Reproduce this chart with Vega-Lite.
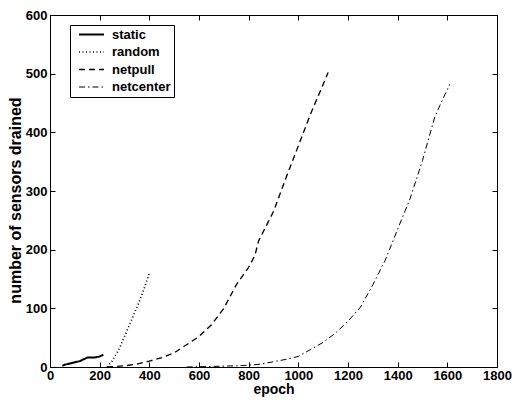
{
  "$schema": "https://vega.github.io/schema/vega-lite/v6.json",
  "autosize": "none",
  "width": 447,
  "height": 352,
  "padding": {"left": 50, "top": 15, "right": 17, "bottom": 33},
  "background": "white",
  "config": {
    "view": {"stroke": "black", "strokeWidth": 1},
    "font": "Liberation Sans",
    "axis": {
      "labelFont": "Liberation Sans", "labelFontWeight": "bold", "labelFontSize": 13, "labelColor": "black",
      "titleFont": "Liberation Sans", "titleFontWeight": "bold", "titleFontSize": 14, "titleColor": "black",
      "grid": false, "format": "d"
    }
  },
  "data": {"values": [
    {"series": "static", "epoch": 50, "drained": 2},
    {"series": "static", "epoch": 60, "drained": 4},
    {"series": "static", "epoch": 80, "drained": 6},
    {"series": "static", "epoch": 100, "drained": 8},
    {"series": "static", "epoch": 120, "drained": 10},
    {"series": "static", "epoch": 135, "drained": 13},
    {"series": "static", "epoch": 150, "drained": 16},
    {"series": "static", "epoch": 180, "drained": 16},
    {"series": "static", "epoch": 200, "drained": 18},
    {"series": "static", "epoch": 215, "drained": 21},
    {"series": "random", "epoch": 230, "drained": 0},
    {"series": "random", "epoch": 250, "drained": 10},
    {"series": "random", "epoch": 280, "drained": 32},
    {"series": "random", "epoch": 300, "drained": 52},
    {"series": "random", "epoch": 320, "drained": 72},
    {"series": "random", "epoch": 340, "drained": 92},
    {"series": "random", "epoch": 360, "drained": 112},
    {"series": "random", "epoch": 380, "drained": 135},
    {"series": "random", "epoch": 400, "drained": 160},
    {"series": "netpull", "epoch": 230, "drained": 0},
    {"series": "netpull", "epoch": 300, "drained": 2},
    {"series": "netpull", "epoch": 350, "drained": 5},
    {"series": "netpull", "epoch": 400, "drained": 10},
    {"series": "netpull", "epoch": 450, "drained": 16},
    {"series": "netpull", "epoch": 500, "drained": 24},
    {"series": "netpull", "epoch": 550, "drained": 38},
    {"series": "netpull", "epoch": 600, "drained": 52},
    {"series": "netpull", "epoch": 650, "drained": 72},
    {"series": "netpull", "epoch": 700, "drained": 100},
    {"series": "netpull", "epoch": 750, "drained": 140},
    {"series": "netpull", "epoch": 800, "drained": 170},
    {"series": "netpull", "epoch": 825, "drained": 190},
    {"series": "netpull", "epoch": 840, "drained": 215},
    {"series": "netpull", "epoch": 900, "drained": 265},
    {"series": "netpull", "epoch": 950, "drained": 322},
    {"series": "netpull", "epoch": 1000, "drained": 377},
    {"series": "netpull", "epoch": 1050, "drained": 432},
    {"series": "netpull", "epoch": 1100, "drained": 482},
    {"series": "netpull", "epoch": 1120, "drained": 502},
    {"series": "netcenter", "epoch": 550, "drained": 0},
    {"series": "netcenter", "epoch": 650, "drained": 1},
    {"series": "netcenter", "epoch": 750, "drained": 2},
    {"series": "netcenter", "epoch": 800, "drained": 3},
    {"series": "netcenter", "epoch": 850, "drained": 5},
    {"series": "netcenter", "epoch": 900, "drained": 9},
    {"series": "netcenter", "epoch": 950, "drained": 13},
    {"series": "netcenter", "epoch": 1000, "drained": 18},
    {"series": "netcenter", "epoch": 1050, "drained": 30},
    {"series": "netcenter", "epoch": 1100, "drained": 42},
    {"series": "netcenter", "epoch": 1150, "drained": 58},
    {"series": "netcenter", "epoch": 1200, "drained": 78},
    {"series": "netcenter", "epoch": 1250, "drained": 102},
    {"series": "netcenter", "epoch": 1300, "drained": 140},
    {"series": "netcenter", "epoch": 1350, "drained": 182},
    {"series": "netcenter", "epoch": 1400, "drained": 235},
    {"series": "netcenter", "epoch": 1450, "drained": 287},
    {"series": "netcenter", "epoch": 1500, "drained": 352},
    {"series": "netcenter", "epoch": 1550, "drained": 427},
    {"series": "netcenter", "epoch": 1580, "drained": 455},
    {"series": "netcenter", "epoch": 1610, "drained": 482}
  ]},
  "resolve": {"axis": {"x": "independent", "y": "independent"}},
  "layer": [
    {
      "mark": {"type": "line", "color": "black"},
      "encoding": {
        "x": {"field": "epoch", "type": "quantitative", "scale": {"domain": [0, 1800], "nice": false},
              "axis": {"title": "epoch", "values": [0,200,400,600,800,1000,1200,1400,1600,1800], "domain": false, "ticks": true, "tickSize": 5, "tickColor": "black", "tickWidth": 1, "offset": -5, "labelPadding": 2, "titlePadding": 0, "labelFlush": false}},
        "y": {"field": "drained", "type": "quantitative", "scale": {"domain": [0, 600], "nice": false},
              "axis": {"title": "number of sensors drained", "titleFontSize": 16, "titleY": 185, "values": [0,100,200,300,400,500,600], "domain": false, "ticks": true, "tickSize": 5, "tickColor": "black", "tickWidth": 1, "offset": -5, "labelPadding": 3, "titlePadding": 2}},
        "strokeDash": {"field": "series", "type": "nominal",
          "scale": {"domain": ["static", "random", "netpull", "netcenter"], "range": [[1,0],[1,2.5],[6,4],[6,3,1.5,3]]},
          "legend": {"title": null, "orient": "none", "legendX": 20, "legendY": 10, "fillColor": "white", "strokeColor": "black",
                     "padding": 3, "rowPadding": 3.5, "symbolOffset": 5, "symbolType": "stroke", "symbolSize": 625, "clipHeight": 13, "symbolStrokeColor": "black",
                     "symbolStrokeWidth": 2, "labelFont": "Liberation Sans", "labelFontWeight": "bold", "labelFontSize": 13, "labelColor": "black", "labelOffset": 7}},
        "strokeWidth": {"field": "series", "type": "nominal",
          "scale": {"domain": ["static", "random", "netpull", "netcenter"], "range": [2, 1, 2, 2]},
          "legend": null}
      }
    },
    {
      "mark": {"type": "line", "opacity": 0},
      "encoding": {
        "x": {"field": "epoch", "type": "quantitative", "axis": {"orient": "top", "labels": false, "title": null, "domain": false, "ticks": true, "tickSize": 5, "tickColor": "black", "tickWidth": 1, "offset": -5, "values": [0,200,400,600,800,1000,1200,1400,1600,1800]}},
        "y": {"field": "drained", "type": "quantitative", "axis": {"orient": "right", "labels": false, "title": null, "domain": false, "ticks": true, "tickSize": 5, "tickColor": "black", "tickWidth": 1, "offset": -5, "values": [0,100,200,300,400,500,600]}},
        "detail": {"field": "series"}
      }
    }
  ]
}
